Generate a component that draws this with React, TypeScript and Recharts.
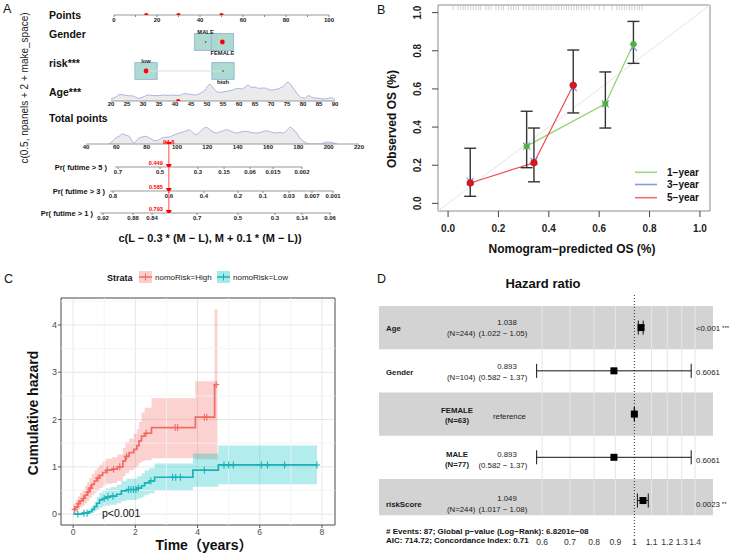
import React from 'react';
import {
  ComposedChart, XAxis, YAxis, Area, Line, Scatter, ErrorBar,
  ReferenceLine, ReferenceArea, CartesianGrid,
} from 'recharts';

const FONT = "'Liberation Sans', Arial, Helvetica, sans-serif";

// ---------- A: nomogram ----------
const pointsTicks = [0, 10, 20, 30, 40, 50, 60, 70, 80, 90, 100];
const patientPoints = [15, 30, 50];
const genderLevels = ['MALE', 'FEMALE'];
const genderPoints = [42.6, 50.4];
const riskLevels = ['low', 'high'];
const riskPoints = [14.9, 50.7];
const ageTicks = [20, 25, 30, 35, 40, 45, 50, 55, 60, 65, 70, 75, 80, 85, 90];
const ageValues = [20, 21.5, 22.8, 24, 25.4, 27, 28.5, 30, 31.7, 33, 34.8, 36.5, 38, 39, 41, 43.1, 45, 46.3, 48, 49.4, 50.9, 52, 53.5, 55, 56.6, 58, 59.7, 61, 62.8, 64, 65, 66, 68, 70, 72, 73.5, 75.4, 76.5, 78, 79.6, 80.5, 81.7, 83, 84.8, 87, 88.9, 90];
const ageDensity = [2, 4, 6.5, 6, 5.3, 5, 2.7, 4, 6, 5.5, 5.3, 6, 5.5, 6, 5.5, 7.3, 6.5, 6, 8, 11, 16.7, 13, 8.7, 9, 10, 11, 12.7, 12, 16, 13.5, 14, 12.7, 13, 11, 12, 14, 18.7, 15, 8, 3.3, 3, 5.3, 3.5, 2.7, 2, 3.3, 1.5];
const patientAge = 41;
const totalTicks = [40, 60, 80, 100, 120, 140, 160, 180, 200, 220];
const totalValues = [55, 57, 59.5, 62, 64, 66, 68.4, 70, 71.7, 73, 75, 77, 79.4, 82, 84, 86, 88, 90, 92.7, 95, 98, 101.5, 105, 108.2, 110, 112.6, 115, 117, 119.3, 122, 125.9, 129, 132.6, 136, 139.2, 142, 145.8, 149, 152.5, 156, 159.1, 162, 165.8, 168, 170.2, 172.5, 174.6, 177, 179, 181, 183.4, 186, 188, 195, 197, 199, 202, 205.6];
const totalDensity = [0, 2, 6, 8, 10, 9, 7.7, 4, 1, 3, 6, 7, 7.7, 6, 4, 3.3, 4, 6, 6.7, 7, 9, 11, 12.5, 14.3, 12, 9.3, 12, 15, 16.7, 14, 11, 12.5, 14.3, 12.5, 11, 12, 12.7, 11.5, 11, 12, 13.3, 12, 11, 11.5, 11, 14, 16.7, 14, 11, 6, 2.7, 0.5, 0, 0, 1.5, 2, 1.5, 0];
const patientTotal = 94.6;
const pr5Labels = ['0.7', '0.5', '0.3', '0.15', '0.06', '0.015', '0.002'];
const pr5Points = [61.1, 88.8, 113.8, 131, 148.1, 163.3, 182.4];
const pr5Range: [number, number] = [59.1, 182.4];
const pr3Labels = ['0.8', '0.6', '0.4', '0.2', '0.1', '0.03', '0.007', '0.001'];
const pr3Points = [57.8, 94.7, 117.8, 140.2, 156.7, 173.8, 189, 202.9];
const pr3Range: [number, number] = [55.8, 202.9];
const pr1Labels = ['0.92', '0.88', '0.84', '0.7', '0.5', '0.3', '0.14', '0.06'];
const pr1Points = [51.2, 71, 83.5, 113.2, 140.2, 164.6, 182.4, 200.9];
const pr1Range: [number, number] = [49.2, 201.5];
const patientPr = ['0.449', '0.585', '0.793'];

// ---------- B: calibration ----------
const calTicks = [0, 0.2, 0.4, 0.6, 0.8, 1];
const cal1Pred = [0.312, 0.6245, 0.736];
const cal1Obs = [0.30, 0.522, 0.836];
const cal1Lo = [0.187, 0.395, 0.734];
const cal1Hi = [0.483, 0.689, 0.954];
const cal3Pred = [0.088, 0.312, 0.341, 0.497, 0.6245, 0.736];
const cal3Obs = [0.115, 0.30, 0.22, 0.607, 0.522, 0.818];
const cal5Pred = [0.088, 0.341, 0.497];
const cal5Obs = [0.107, 0.213, 0.619];
const cal5Lo = [0.037, 0.113, 0.474];
const cal5Hi = [0.289, 0.395, 0.804];
const rugPred = [0.02, 0.04, 0.05, 0.06, 0.07, 0.08, 0.09, 0.1, 0.11, 0.12, 0.13, 0.15, 0.16, 0.17, 0.19, 0.2, 0.21, 0.22, 0.24, 0.25, 0.26, 0.27, 0.28, 0.3, 0.31, 0.32, 0.33, 0.34, 0.35, 0.36, 0.37, 0.38, 0.39, 0.4, 0.41, 0.42, 0.43, 0.44, 0.45, 0.46, 0.47, 0.48, 0.49, 0.5, 0.51, 0.52, 0.53, 0.54, 0.55, 0.56, 0.58, 0.6, 0.62, 0.65, 0.67, 0.68, 0.69, 0.7, 0.71, 0.72, 0.73, 0.74, 0.75, 0.76, 0.77];

// ---------- C: cumulative hazard ----------
const highT = [0, 0.08, 0.15, 0.22, 0.3, 0.38, 0.45, 0.52, 0.6, 0.68, 0.76, 0.85, 0.95, 1.05, 1.25, 1.42, 1.6, 1.68, 1.8, 1.95, 2.05, 2.12, 2.2, 2.3, 2.52, 3.93, 4.55, 4.64];
const highY = [0.1, 0.15, 0.22, 0.28, 0.33, 0.4, 0.47, 0.55, 0.63, 0.7, 0.76, 0.82, 0.88, 0.93, 0.95, 1.0, 1.12, 1.22, 1.3, 1.37, 1.45, 1.55, 1.65, 1.71, 1.83, 2.05, 2.74, 2.74];
const highLo = [0.02, 0.05, 0.1, 0.14, 0.18, 0.23, 0.28, 0.34, 0.4, 0.45, 0.5, 0.55, 0.6, 0.64, 0.66, 0.7, 0.8, 0.87, 0.93, 0.98, 1.03, 1.08, 1.12, 1.14, 1.18, 1.16, 1.15, 1.15];
const highHi = [0.22, 0.3, 0.38, 0.45, 0.52, 0.6, 0.68, 0.76, 0.85, 0.92, 0.98, 1.05, 1.12, 1.17, 1.2, 1.26, 1.4, 1.52, 1.6, 1.7, 1.8, 1.95, 2.15, 2.25, 2.45, 2.81, 4.33, 4.33];
const lowT = [0, 0.3, 0.5, 0.6, 0.68, 0.76, 0.85, 0.95, 1.05, 1.2, 1.4, 1.55, 1.72, 2.05, 2.2, 2.3, 2.45, 2.62, 3.85, 4.67, 7.84];
const lowY = [0, 0.02, 0.05, 0.1, 0.16, 0.23, 0.3, 0.33, 0.36, 0.38, 0.42, 0.49, 0.52, 0.55, 0.6, 0.66, 0.7, 0.78, 0.93, 1.04, 1.04];
const lowLo = [0, 0, 0.01, 0.03, 0.06, 0.1, 0.14, 0.16, 0.18, 0.2, 0.23, 0.28, 0.3, 0.33, 0.36, 0.41, 0.44, 0.5, 0.58, 0.63, 0.63];
const lowHi = [0, 0.05, 0.1, 0.18, 0.26, 0.36, 0.45, 0.5, 0.54, 0.57, 0.62, 0.7, 0.75, 0.8, 0.86, 0.92, 0.97, 1.07, 1.28, 1.45, 1.45];
const highCens = [0.05, 0.18, 0.33, 0.48, 0.56, 0.8, 1.1, 1.3, 1.5, 1.72, 2.35, 3.28, 3.36, 4.22, 4.3, 4.6];
const lowCens = [0.15, 0.35, 0.45, 1.0, 1.12, 1.28, 1.78, 1.86, 1.94, 2.02, 2.1, 2.5, 3.2, 3.3, 3.45, 4.22, 4.85, 5.0, 5.15, 6.05, 6.25, 6.8, 7.84];
const timeTicks = [0, 2, 4, 6, 8];
const timeMinor = [1, 3, 5, 7];
const hazTicks = [0, 1, 2, 3, 4];
const hazMinor = [0.5, 1.5, 2.5, 3.5, 4.5];

// ---------- D: forest ----------
const forestName = ['Age', 'Gender', 'FEMALE', 'MALE', 'riskScore'];
const forestN = ['(N=244)', '(N=104)', '(N=63)', '(N=77)', '(N=244)'];
const forestEst = ['1.038', '0.893', 'reference', '0.893', '1.049'];
const forestCI = ['(1.022 − 1.05)', '(0.582 − 1.37)', '', '(0.582 − 1.37)', '(1.017 − 1.08)'];
const forestP = ['<0.001', '0.6061', '', '0.6061', '0.0023'];
const forestStars = ['***', '', '', '', '**'];
const forestHR = [1.038, 0.893, 1, 0.893, 1.049];
const forestLo = [1.022, 0.582, 1, 0.582, 1.017];
const forestHi = [1.05, 1.37, 1, 1.37, 1.08];
const hrTicks = [0.6, 0.7, 0.8, 0.9, 1, 1.1, 1.2, 1.3, 1.4];

const stepAt = (T: number[], Y: number[], t: number) => {
  let v = Y[0];
  T.forEach((tt, i) => { if (tt <= t) v = Y[i]; });
  return v;
};

type RowProps = {
  x0: number; x1: number; axisY: number; above: number; domain: [number, number];
  ticks?: number[]; fmt?: (v: number) => string; yDomain?: [number, number];
  data?: any[]; showAxis?: boolean; tickSize?: number; tickMargin?: number; children?: React.ReactNode;
};

function NomoRow({ x0, x1, axisY, above, domain, ticks, fmt, yDomain = [0, 1], data, showAxis = true, tickSize = 2, tickMargin = 1, children }: RowProps) {
  const padX = 24, padTop = 6, axisH = showAxis ? 14 : 0, padBottom = showAxis ? 0 : 10;
  return (
    <div style={{ position: 'absolute', left: x0 - padX, top: axisY - above - padTop }}>
      <ComposedChart width={x1 - x0 + 2 * padX} height={padTop + above + axisH + padBottom}
        margin={{ top: padTop, right: padX, bottom: padBottom, left: padX }} data={data}>
        <XAxis type="number" dataKey="x" domain={domain} allowDataOverflow ticks={ticks} interval={0}
          tickFormatter={fmt} height={axisH} hide={!showAxis} tickSize={tickSize} tickMargin={tickMargin}
          axisLine={{ stroke: '#9a9a9a' }} tickLine={{ stroke: '#888' }}
          tick={{ fontSize: 6, fontWeight: 700, fill: '#222' }} />
        <YAxis type="number" hide domain={yDomain} allowDataOverflow />
        {children}
      </ComposedChart>
    </div>
  );
}

const BOX_HALF_PX = 8.45;
const levelShape = (chosen: number) => (p: any) => {
  const { cx, cy, payload } = p;
  const above = payload.idx === 0;
  return (
    <g>
      {payload.idx === chosen
        ? <circle cx={cx} cy={cy} r={2.4} fill="#ff0000" />
        : <circle cx={cx} cy={cy} r={0.8} fill="#333" />}
      <text x={cx} y={above ? cy - BOX_HALF_PX + 0.5 : cy + BOX_HALF_PX + 4.5} textAnchor="middle"
        fontSize={5.8} fontWeight={700} fill="#222">{payload.label}</text>
    </g>
  );
};
const redDot = (p: any) => <circle cx={p.cx} cy={p.cy} r={2.1} fill="#ff0000" />;
const downTri = (cx: number, cy: number) => `M${cx - 3},${cy - 3} L${cx + 3},${cy - 3} L${cx},${cy + 2.6} Z`;
const totalMark = (p: any) => (
  <g>
    <path d={downTri(p.cx, p.cy + 1)} fill="#ff0000" />
    <text x={p.cx} y={p.cy - 0.5} textAnchor="middle" fontSize={6} fontWeight={700} fill="#ff0000">{p.payload.label}</text>
  </g>
);
const prMark = (p: any) => (
  <g>
    <path d={downTri(p.cx, p.cy)} fill="#ff0000" />
    <text x={p.cx - 6} y={p.cy - 1.8} textAnchor="end" fontSize={5.6} fontWeight={700} fill="#ff0000">{p.payload.label}</text>
  </g>
);

function PanelA() {
  const ageData = ageValues.map((x, i) => ({ x, d: ageDensity[i] }));
  const totalData = totalValues.map((x, i) => ({ x, d: totalDensity[i] }));
  const genderData = genderLevels.map((label, i) => ({ x: genderPoints[i], y: 0, label, idx: i }));
  const riskData = riskLevels.map((label, i) => ({ x: riskPoints[i], y: 0, label, idx: i }));
  const prRows = [
    { labels: pr5Labels, pts: pr5Points, range: pr5Range, axisY: 167, above: 23 },
    { labels: pr3Labels, pts: pr3Points, range: pr3Range, axisY: 191, above: 24 },
    { labels: pr1Labels, pts: pr1Points, range: pr1Range, axisY: 213, above: 22 },
  ];
  const box = (p: number, k: string) => (
    <ReferenceArea key={k} x1={p - 5.2} x2={p + 5.2} y1={-0.65} y2={0.65} fill="#a9d8cf" fillOpacity={0.95} stroke="#93acd8" strokeWidth={0.8} />
  );
  return (
    <>
      <NomoRow x0={114} x1={329} axisY={15} above={6} domain={[0, 100]} ticks={pointsTicks}
        fmt={(v) => (v % 20 === 0 ? String(v) : '')} tickSize={2} tickMargin={1}>
        <Scatter data={patientPoints.map((x) => ({ x, y: 0 }))} dataKey="y" shape={redDot} isAnimationActive={false} />
      </NomoRow>
      <NomoRow x0={114} x1={329} axisY={54.5} above={26} domain={[0, 100]} yDomain={[-1, 1]} showAxis={false}>
        {genderPoints.map((p, i) => box(p, 'g' + i))}
        <Scatter data={genderData} dataKey="y" shape={levelShape(1)} isAnimationActive={false} />
      </NomoRow>
      <NomoRow x0={114} x1={329} axisY={84} above={26} domain={[0, 100]} yDomain={[-1, 1]} showAxis={false}>
        <ReferenceLine segment={[{ x: riskPoints[0], y: 0 }, { x: riskPoints[1], y: 0 }]} stroke="#dcdcdc" strokeWidth={1.2} />
        {riskPoints.map((p, i) => box(p, 'r' + i))}
        <Scatter data={riskData} dataKey="y" shape={levelShape(0)} isAnimationActive={false} />
      </NomoRow>
      <NomoRow x0={111} x1={335} axisY={100.5} above={22} domain={[20, 90]} ticks={ageTicks} yDomain={[0, 22]}
        data={ageData} tickSize={0} tickMargin={1}>
        <Area dataKey="d" type="monotone" fill="#ebebeb" fillOpacity={1} stroke="#9db0dd" strokeWidth={0.9} isAnimationActive={false} />
        <Scatter data={[{ x: patientAge, y: 0 }]} dataKey="y" shape={redDot} isAnimationActive={false} />
      </NomoRow>
      <NomoRow x0={86} x1={359} axisY={144} above={18} domain={[40, 220]} ticks={totalTicks} yDomain={[0, 18]}
        data={totalData} tickSize={0} tickMargin={1}>
        <Area dataKey="d" type="monotone" fill="#ebebeb" fillOpacity={1} stroke="#9db0dd" strokeWidth={0.9} isAnimationActive={false} />
        <Scatter data={[{ x: patientTotal, y: 0, label: String(patientTotal) }]} dataKey="y" shape={totalMark} isAnimationActive={false} />
      </NomoRow>
      {prRows.map((r, k) => {
        const pxPerPt = 273 / 180;
        const x0 = 86 + (r.range[0] - 40) * pxPerPt;
        const x1 = 86 + (r.range[1] - 40) * pxPerPt;
        return (
          <NomoRow key={k} x0={x0} x1={x1} axisY={r.axisY} above={r.above} domain={r.range} ticks={r.pts}
            fmt={(v) => r.labels[r.pts.indexOf(v)] ?? ''} tickSize={2} tickMargin={1}>
            <ReferenceLine x={patientTotal} stroke="#ff3b3b" strokeWidth={0.9} />
            <Scatter data={[{ x: patientTotal, y: 0, label: patientPr[k] }]} dataKey="y" shape={prMark} isAnimationActive={false} />
          </NomoRow>
        );
      })}
    </>
  );
}

const xMark = (color: string) => (p: any) => (
  <g stroke={color} strokeWidth={1.2}>
    <line x1={p.cx - 3.5} y1={p.cy - 3.5} x2={p.cx + 3.5} y2={p.cy + 3.5} />
    <line x1={p.cx - 3.5} y1={p.cy + 3.5} x2={p.cx + 3.5} y2={p.cy - 3.5} />
  </g>
);
const rugTick = (p: any) => <line x1={p.cx} y1={p.cy - 2.5} x2={p.cx} y2={p.cy + 2.5} stroke="#bdbdbd" strokeWidth={0.7} />;
const RotTick = (p: any) => (
  <text x={p.x} y={p.y} transform={`rotate(-90 ${p.x} ${p.y})`} textAnchor="middle" fontSize={10} fontWeight={700} fill="#222">
    {Number(p.payload.value).toFixed(1)}
  </text>
);

function PanelB() {
  const d1 = cal1Pred.map((x, i) => ({ x, y: cal1Obs[i], err: [cal1Obs[i] - cal1Lo[i], cal1Hi[i] - cal1Obs[i]] }));
  const d5 = cal5Pred.map((x, i) => ({ x, y: cal5Obs[i], err: [cal5Obs[i] - cal5Lo[i], cal5Hi[i] - cal5Obs[i]] }));
  const d3 = cal3Pred.map((x, i) => ({ x, y: cal3Obs[i] }));
  const rug = rugPred.map((x) => ({ x, y: 1.026 }));
  return (
    <div style={{ position: 'absolute', left: 370, top: 0 }}>
      <ComposedChart width={364} height={280} margin={{ top: 5, right: 24, bottom: 44, left: 48 }}>
        <XAxis type="number" dataKey="x" domain={[-0.04, 1.04]} allowDataOverflow ticks={calTicks} interval={0}
          tickFormatter={(v) => v.toFixed(1)} height={25} tickSize={6} tickMargin={8} axisLine={false}
          tickLine={{ stroke: '#444' }} tick={{ fontSize: 10, fontWeight: 700, fill: '#222' }} />
        <YAxis type="number" domain={[-0.04, 1.04]} allowDataOverflow ticks={calTicks} interval={0} width={20}
          tickSize={6} tickMargin={11} axisLine={false} tickLine={{ stroke: '#444' }} tick={<RotTick />} />
        <ReferenceLine segment={[{ x: -0.04, y: -0.04 }, { x: 1.04, y: 1.04 }]} stroke="#e4e4e4" strokeWidth={1} />
        <Scatter data={rug} dataKey="y" shape={rugTick} isAnimationActive={false} />
        <Line data={d1} dataKey="y" stroke="#8fd46a" strokeWidth={1.2} dot={false} isAnimationActive={false} />
        <Line data={d5} dataKey="y" stroke="#ee4b4b" strokeWidth={1.2} dot={false} isAnimationActive={false} />
        <Scatter data={d3} dataKey="y" shape={xMark('#7593dc')} isAnimationActive={false} />
        <Scatter data={d1} dataKey="y" fill="#4fb23a" shape={(p: any) => <circle cx={p.cx} cy={p.cy} r={3} fill="#4fb23a" />} isAnimationActive={false}>
          <ErrorBar dataKey="err" direction="y" width={6} stroke="#333" strokeWidth={1.4} />
        </Scatter>
        <Scatter data={d5} dataKey="y" shape={(p: any) => <circle cx={p.cx} cy={p.cy} r={3.3} fill="#e3141c" stroke="#a0101a" strokeWidth={0.6} />} isAnimationActive={false}>
          <ErrorBar dataKey="err" direction="y" width={6} stroke="#333" strokeWidth={1.4} />
        </Scatter>
        <ReferenceArea x1={-0.04} x2={1.04} y1={-0.04} y2={1.04} fill="none" stroke="#8c8c8c" strokeWidth={1} />
      </ComposedChart>
    </div>
  );
}

const plusMark = (color: string) => (p: any) => (
  <g stroke={color} strokeWidth={1.1}>
    <line x1={p.cx} y1={p.cy - 3.5} x2={p.cx} y2={p.cy + 3.5} />
    <line x1={p.cx - 3} y1={p.cy} x2={p.cx + 3} y2={p.cy} />
  </g>
);
const HIGH = '#F26B62';
const LOW = '#17B2B8';

function PanelC() {
  const high = highT.map((t, i) => ({ t, y: highY[i], lo: highLo[i], hi: highHi[i] }));
  const low = lowT.map((t, i) => ({ t, y: lowY[i], lo: lowLo[i], hi: lowHi[i] }));
  const hc = highCens.map((t) => ({ t, y: stepAt(highT, highY, t) }));
  const lc = lowCens.map((t) => ({ t, y: stepAt(lowT, lowY, t) }));
  return (
    <div style={{ position: 'absolute', left: 0, top: 280 }}>
      <ComposedChart width={370} height={276} margin={{ top: 18, right: 35, bottom: 16, left: 47 }}>
        {timeMinor.map((v) => <ReferenceLine key={'mx' + v} x={v} stroke="#f3f3f3" strokeWidth={0.8} />)}
        {hazMinor.map((v) => <ReferenceLine key={'my' + v} y={v} stroke="#f3f3f3" strokeWidth={0.8} />)}
        <CartesianGrid stroke="#e6e6e6" strokeWidth={1} />
        <XAxis type="number" dataKey="t" domain={[-0.39, 8.42]} allowDataOverflow ticks={timeTicks} interval={0}
          height={15} tickSize={3} tickMargin={1} axisLine={false} tickLine={{ stroke: '#555' }}
          tick={{ fontSize: 8.5, fill: '#4d4d4d' }} />
        <YAxis type="number" domain={[-0.23, 4.57]} allowDataOverflow ticks={hazTicks} interval={0} width={14}
          tickSize={3} tickMargin={1} axisLine={false} tickLine={{ stroke: '#555' }}
          tick={{ fontSize: 9, fill: '#4d4d4d' }} />
        <Area data={high} dataKey={(d: any) => [d.lo, d.hi]} type="stepAfter" fill={HIGH} fillOpacity={0.3} stroke="none" isAnimationActive={false} />
        <Area data={low} dataKey={(d: any) => [d.lo, d.hi]} type="stepAfter" fill="#00BFC4" fillOpacity={0.3} stroke="none" isAnimationActive={false} />
        <Line data={high} dataKey="y" type="stepAfter" stroke={HIGH} strokeWidth={1.7} dot={false} isAnimationActive={false} />
        <Line data={low} dataKey="y" type="stepAfter" stroke={LOW} strokeWidth={1.7} dot={false} isAnimationActive={false} />
        <Scatter data={hc} dataKey="y" shape={plusMark(HIGH)} isAnimationActive={false} />
        <Scatter data={lc} dataKey="y" shape={plusMark(LOW)} isAnimationActive={false} />
        <ReferenceArea x1={-0.39} x2={8.42} y1={-0.23} y2={4.57} fill="none" stroke="#555" strokeWidth={1} />
      </ComposedChart>
    </div>
  );
}

const square = (p: any) => <rect x={p.cx - 3.5} y={p.cy - 3.5} width={7} height={7} fill="#000" />;

function PanelD() {
  const rows = forestHR.map((hr, i) => ({ hr, row: i + 0.5, err: [hr - forestLo[i], forestHi[i] - hr] }));
  return (
    <div style={{ position: 'absolute', left: 370, top: 280 }}>
      <ComposedChart width={364} height={276} margin={{ top: 13, right: 21, bottom: 0, left: 9 }}>
        <XAxis type="number" dataKey="hr" scale="log" domain={[0.243, 1.546]} allowDataOverflow ticks={hrTicks}
          interval={0} height={20} tickSize={0} tickMargin={3} axisLine={false} tickLine={false}
          tick={{ fontSize: 8.5, fill: '#333' }} tickFormatter={(v) => String(v)} />
        <YAxis type="number" hide reversed domain={[-0.3, 5.32]} allowDataOverflow />
        {[0, 2, 4].map((r) => (
          <ReferenceArea key={r} x1={0.243} x2={1.546} y1={r} y2={r === 4 ? 4.84 : r + 1} fill="#d3d3d3" fillOpacity={1} stroke="none" />
        ))}
        {hrTicks.filter((v) => v !== 1).map((v) => (
          <ReferenceLine key={v} segment={[{ x: v, y: 0 }, { x: v, y: 4.84 }]} stroke="#e6e6e6" strokeWidth={1} />
        ))}
        <ReferenceLine x={1} stroke="#333" strokeDasharray="1 2" strokeWidth={1} />
        <Scatter data={rows} dataKey="row" shape={square} isAnimationActive={false}>
          <ErrorBar dataKey="err" direction="x" width={7} stroke="#111" strokeWidth={1} />
        </Scatter>
      </ComposedChart>
    </div>
  );
}

function Overlay() {
  const bold = { fontWeight: 700 } as const;
  const rowLabels = [
    { t: 'Points', y: 19 }, { t: 'Gender', y: 38 }, { t: 'risk***', y: 67 }, { t: 'Age***', y: 96 }, { t: 'Total points', y: 122 },
  ];
  const prLabels = [
    { t: 'Pr( futime > 5 )', x: 107, y: 169.5 },
    { t: 'Pr( futime > 3 )', x: 105, y: 193.5 },
    { t: 'Pr( futime > 1 )', x: 93, y: 215.5 },
  ];
  const legendB = [
    { t: '1−year', c: '#99d97a', y: 172.3 },
    { t: '3−year', c: '#7f9fdf', y: 184.5 },
    { t: '5−year', c: '#f07070', y: 197.7 },
  ];
  return (
    <svg width={734} height={556} style={{ position: 'absolute', left: 0, top: 0, pointerEvents: 'none' }} fontFamily={FONT} fill="#111">
      {/* A */}
      <text x={3} y={13} fontSize={12.5}>A</text>
      {rowLabels.map((r) => <text key={r.t} x={49} y={r.y} fontSize={10.5} {...bold}>{r.t}</text>)}
      {prLabels.map((r) => <text key={r.t} x={r.x} y={r.y} fontSize={7.5} textAnchor="end" {...bold}>{r.t}</text>)}
      <text x={28} y={88} fontSize={10} textAnchor="middle" transform="rotate(-90 28 88)" fill="#222">c(0.5, npanels + 2 + make_space)</text>
      <text x={210} y={242} fontSize={11} textAnchor="middle" {...bold}>c(L − 0.3 * (M − L), M + 0.1 * (M − L))</text>

      {/* B */}
      <text x={377} y={14} fontSize={12.5}>B</text>
      <text x={395.5} y={119} fontSize={12} textAnchor="middle" transform="rotate(-90 395.5 119)" {...bold}>Observed OS (%)</text>
      <text x={572} y={253} fontSize={12} textAnchor="middle" {...bold}>Nomogram−predicted OS (%)</text>
      {legendB.map((l) => (
        <g key={l.t}>
          <line x1={635} x2={657} y1={l.y} y2={l.y} stroke={l.c} strokeWidth={1.6} />
          <text x={667} y={l.y + 3.6} fontSize={10} {...bold}>{l.t}</text>
        </g>
      ))}

      {/* C */}
      <text x={4} y={283} fontSize={12.5}>C</text>
      <text x={107} y={280.5} fontSize={9} {...bold}>Strata</text>
      <rect x={139} y={271} width={13} height={12} fill="#F8766D" fillOpacity={0.35} />
      <line x1={139} x2={152} y1={277} y2={277} stroke={HIGH} strokeWidth={1.5} />
      <line x1={145.5} x2={145.5} y1={273.5} y2={280.5} stroke={HIGH} strokeWidth={1} />
      <text x={155} y={280} fontSize={8} fill="#222">nomoRisk=High</text>
      <rect x={217} y={271} width={13} height={12} fill="#00BFC4" fillOpacity={0.35} />
      <line x1={217} x2={230} y1={277} y2={277} stroke={LOW} strokeWidth={1.5} />
      <line x1={223.5} x2={223.5} y1={273.5} y2={280.5} stroke={LOW} strokeWidth={1} />
      <text x={233} y={280} fontSize={8} fill="#222">nomoRisk=Low</text>
      <text x={38} y={413} fontSize={14} textAnchor="middle" transform="rotate(-90 38 413)" {...bold}>Cumulative hazard</text>
      <text x={204} y={550} fontSize={14} textAnchor="middle" fontFamily="'Liberation Sans', 'Noto Sans CJK SC', sans-serif" {...bold}>Time（years）</text>
      <text x={102} y={517} fontSize={10.5} fill="#111">p&lt;0.001</text>

      {/* D */}
      <text x={377} y={283} fontSize={12.5}>D</text>
      <text x={543} y={288} fontSize={13} textAnchor="middle" {...bold}>Hazard ratio</text>
      {forestName.map((name, i) => {
        const c = 328 + 44 * i;
        const level = i === 2 || i === 3;
        return (
          <g key={name} fontSize={7.8} fill="#1a1a1a">
            {level ? (
              <>
                <text x={457} y={c - 3} textAnchor="middle" {...bold}>{name}</text>
                <text x={457} y={c + 7} textAnchor="middle" {...bold}>{forestN[i]}</text>
              </>
            ) : (
              <>
                <text x={386} y={c + 3} {...bold}>{name}</text>
                <text x={447} y={c + 8}>{forestN[i]}</text>
              </>
            )}
            {forestEst[i] === 'reference'
              ? <text x={493} y={c + 3}>reference</text>
              : <text x={507} y={c - 3} textAnchor="middle">{forestEst[i]}</text>}
            {forestCI[i] && <text x={478.5} y={c + 8}>{forestCI[i]}</text>}
            {forestP[i] && (
              <text x={696} y={c + 3}>{forestP[i]}
                {forestStars[i] && <tspan fontSize={6} dx={2} dy={-1.5}>{forestStars[i]}</tspan>}
              </text>
            )}
          </g>
        );
      })}
      <text x={386} y={534} fontSize={8} {...bold}># Events: 87; Global p−value (Log−Rank): 6.8201e−08</text>
      <text x={386} y={542.5} fontSize={8} {...bold}>AIC: 714.72; Concordance Index: 0.71</text>
    </svg>
  );
}

export default function App() {
  return (
    <div style={{ position: 'absolute', left: 0, top: 0, width: 734, height: 556, background: '#fff', overflow: 'hidden', fontFamily: FONT }}>
      <style>{'.recharts-surface{overflow:visible}'}</style>
      <PanelA />
      <PanelB />
      <PanelC />
      <PanelD />
      <Overlay />
    </div>
  );
}
